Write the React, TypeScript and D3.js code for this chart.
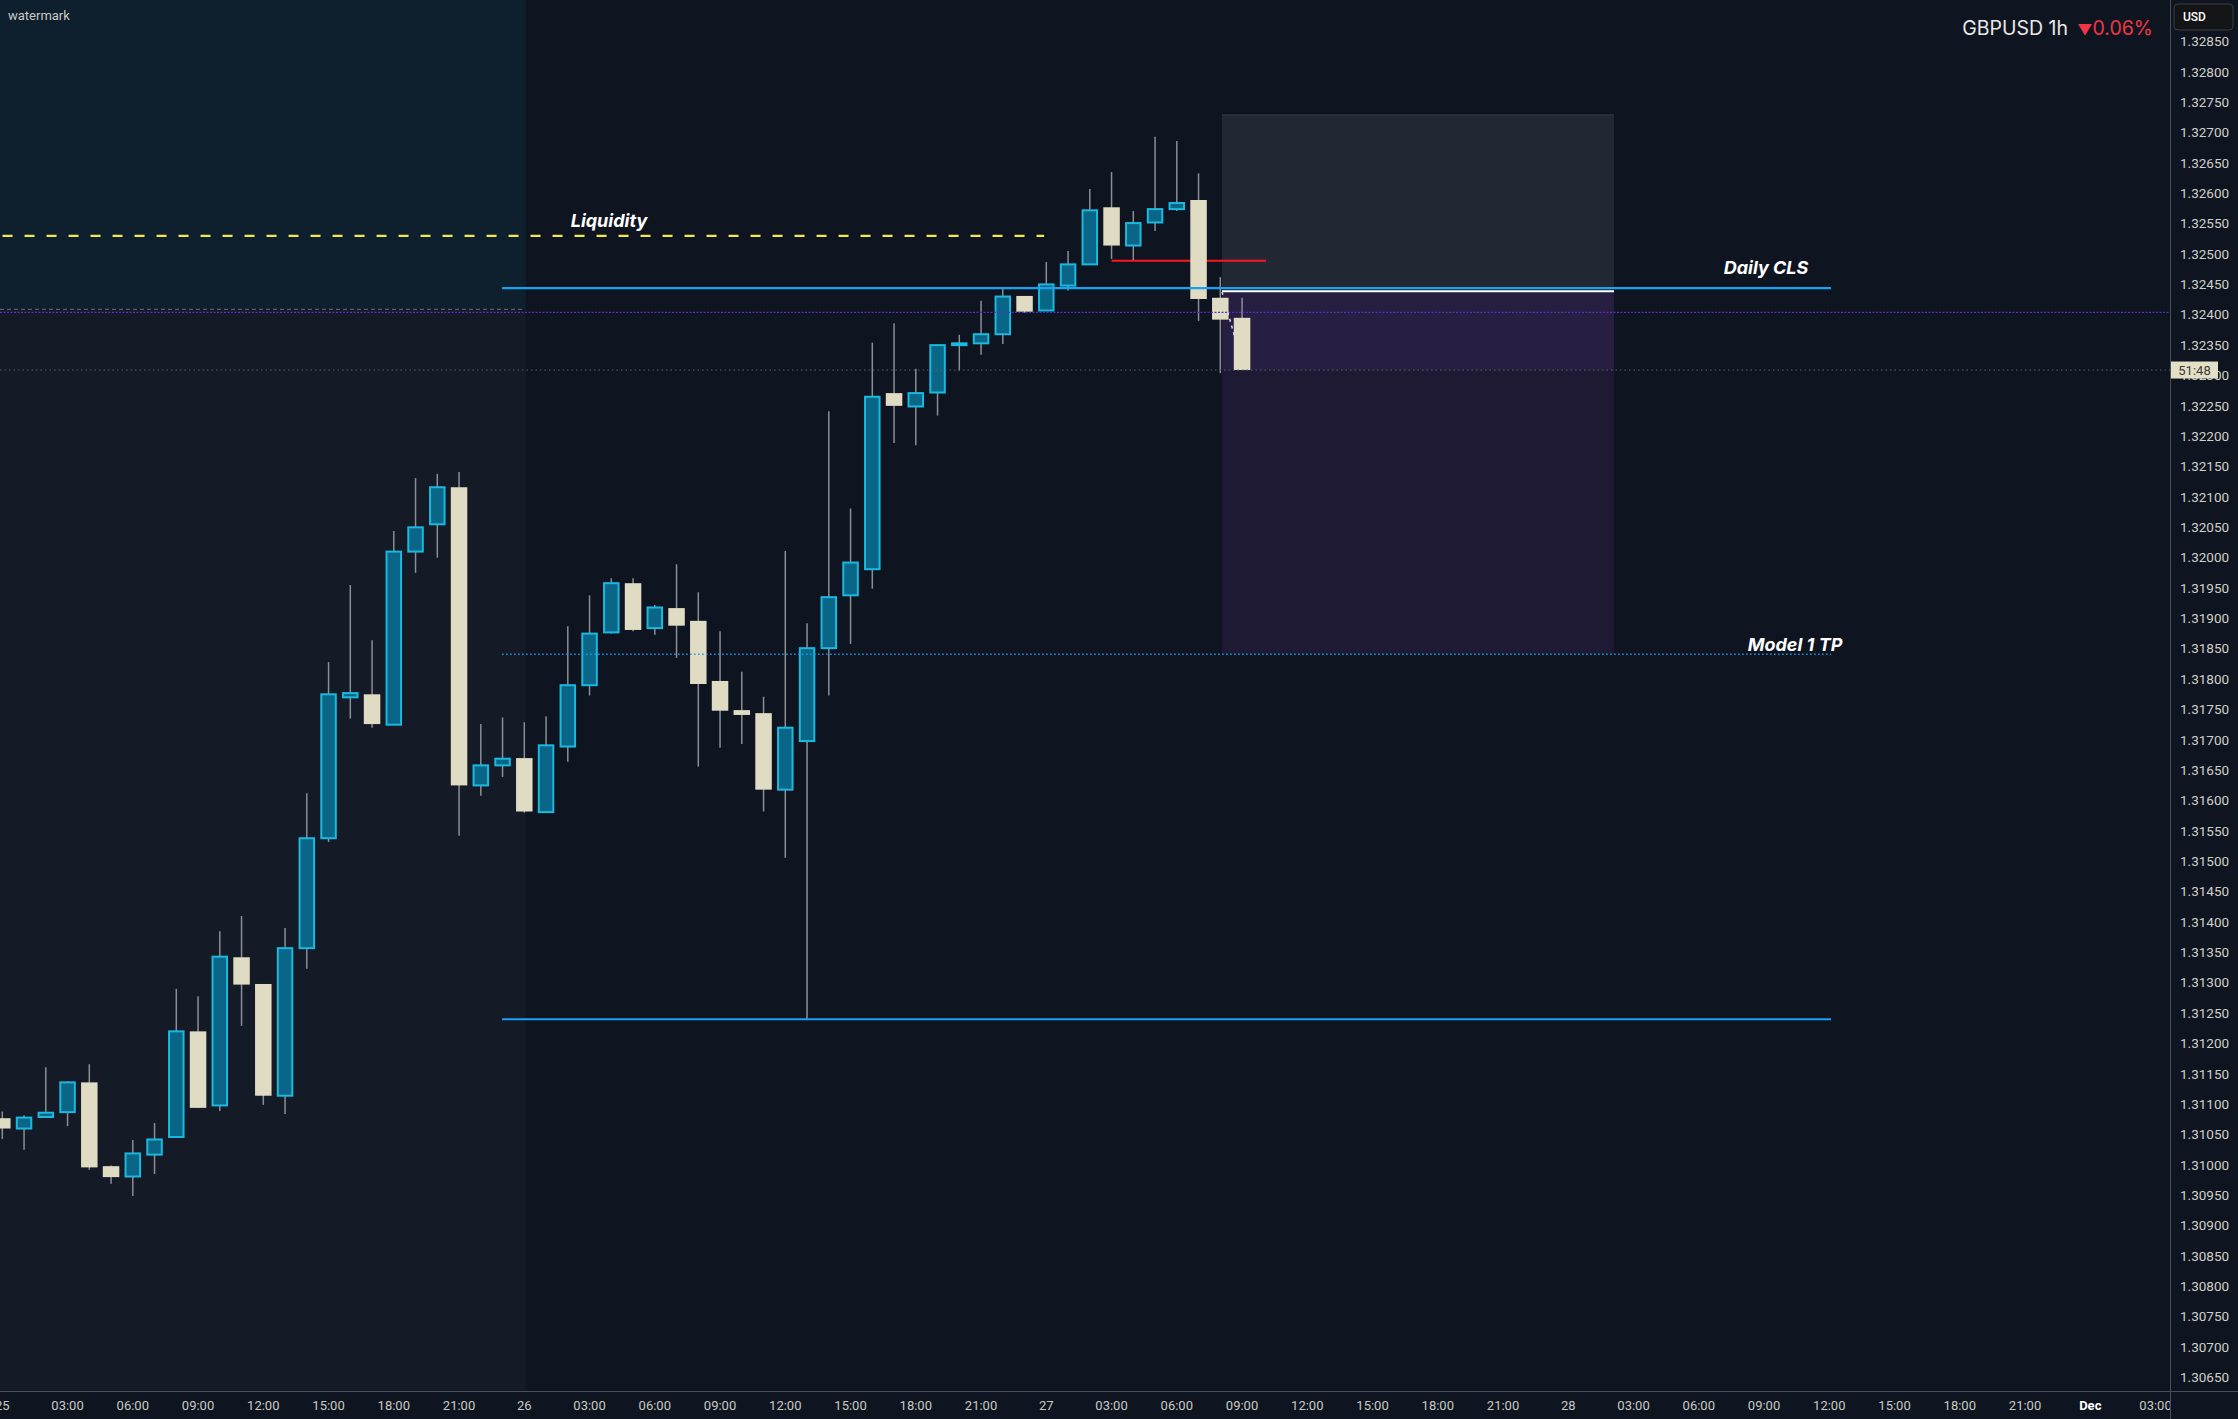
import React from 'react';
import * as d3 from 'd3';

// ---- Data (GBPUSD 1h, from 25 Nov 00:00) ----
const openP = [
  1.31077, 1.31060, 1.31079, 1.31087, 1.31136, 1.30998, 1.30981, 1.31017, 1.31046, 1.31220,
  1.31098, 1.31342, 1.31298, 1.31114, 1.31357, 1.31538, 1.31770, 1.31775, 1.31725, 1.32010,
  1.32055, 1.32116, 1.31625, 1.31658, 1.31670, 1.31581, 1.31689, 1.31790, 1.31877, 1.31958,
  1.31884, 1.31917, 1.31896, 1.31797, 1.31749, 1.31744, 1.31618, 1.31698, 1.31851, 1.31938,
  1.31981, 1.32271, 1.32249, 1.32272, 1.32350, 1.32353, 1.32368, 1.32431, 1.32407, 1.32448,
  1.32483, 1.32577, 1.32514, 1.32552, 1.32574, 1.32589, 1.32428, 1.32395,
];
const highP = [
  1.31088, 1.31082, 1.31161, 1.31138, 1.31166, 1.30999, 1.31041, 1.31069, 1.31290, 1.31278,
  1.31385, 1.31410, 1.31298, 1.31390, 1.31612, 1.31828, 1.31955, 1.31864, 1.32044, 1.32131,
  1.32138, 1.32141, 1.31726, 1.31737, 1.31729, 1.31739, 1.31887, 1.31938, 1.31966, 1.31966,
  1.31922, 1.31989, 1.31943, 1.31879, 1.31812, 1.31771, 1.32011, 1.31892, 1.32241, 1.32081,
  1.32354, 1.32386, 1.32311, 1.32350, 1.32367, 1.32423, 1.32443, 1.32431, 1.32487, 1.32505,
  1.32607, 1.32635, 1.32571, 1.32693, 1.32686, 1.32633, 1.32462, 1.32428,
];
const lowP = [
  1.31043, 1.31025, 1.31078, 1.31064, 1.30992, 1.30969, 1.30949, 1.30985, 1.31045, 1.31094,
  1.31089, 1.31229, 1.31099, 1.31084, 1.31323, 1.31532, 1.31735, 1.31720, 1.31725, 1.31975,
  1.32000, 1.31542, 1.31608, 1.31639, 1.31580, 1.31580, 1.31664, 1.31773, 1.31875, 1.31879,
  1.31873, 1.31835, 1.31656, 1.31687, 1.31693, 1.31582, 1.31506, 1.31240, 1.31773, 1.31858,
  1.31949, 1.32189, 1.32185, 1.32234, 1.32308, 1.32334, 1.32352, 1.32403, 1.32407, 1.32440,
  1.32483, 1.32492, 1.32490, 1.32538, 1.32571, 1.32390, 1.32304, 1.32309,
];
const closeP = [
  1.31060, 1.31078, 1.31086, 1.31136, 1.30996, 1.30980, 1.31019, 1.31042, 1.31220, 1.31094,
  1.31343, 1.31297, 1.31114, 1.31357, 1.31538, 1.31775, 1.31777, 1.31726, 1.32010, 1.32050,
  1.32116, 1.31625, 1.31658, 1.31669, 1.31582, 1.31691, 1.31790, 1.31875, 1.31958, 1.31881,
  1.31918, 1.31888, 1.31792, 1.31748, 1.31741, 1.31618, 1.31720, 1.31851, 1.31935, 1.31992,
  1.32265, 1.32250, 1.32271, 1.32350, 1.32353, 1.32368, 1.32430, 1.32405, 1.32450, 1.32483,
  1.32572, 1.32514, 1.32551, 1.32574, 1.32584, 1.32426, 1.32392, 1.32309,
];

// time axis labels, one every 3 hours starting 25 Nov 00:00 (weekend skipped)
const timeTickLabels = [
  '25', '03:00', '06:00', '09:00', '12:00', '15:00', '18:00', '21:00',
  '26', '03:00', '06:00', '09:00', '12:00', '15:00', '18:00', '21:00',
  '27', '03:00', '06:00', '09:00', '12:00', '15:00', '18:00', '21:00',
  '28', '03:00', '06:00', '09:00', '12:00', '15:00', '18:00', '21:00',
  'Dec', '03:00',
];
const priceTickMin = 1.3065;
const priceTickMax = 1.3285;
const priceTickStep = 0.0005;

// annotation levels
const liquidityLevel = 1.3253;
const dailyCLSLevel = 1.32444;
const entryLevel = 1.32441;
const modelTPLevel = 1.31841;
const sweepLowLevel = 1.3124;
const redLevel = 1.32489;
const stopLevel = 1.32729;
const purpleLevel = 1.32404;
const grayPrevLevel = 1.32409;
const lastPrice = 1.32309;

// annotation time extents (hour index)
const sessionEnd = 24.07;
const liquidityEnd = 47.9;
const clsStart = 22.98;
const clsEnd = 84.08;
const redStart = 51.0;
const redEnd = 58.1;
const posStart = 56.08;
const posEnd = 74.1;

const W = 2238;
const H = 1419;
const PR = 2170; // price axis x
const PB = 1391; // time axis y

export default function App() {
  const x = d3.scaleLinear().domain([0, 99]).range([2.3, 2.3 + 99 * 21.75]);
  const y = d3.scaleLinear().domain([priceTickMax, priceTickMin]).range([41.5, 1377.5]);
  const fmt = d3.format('.5f');
  const priceTicks = d3.range(0, Math.round((priceTickMax - priceTickMin) / priceTickStep) + 1)
    .map((i) => priceTickMin + i * priceTickStep);

  const candles = openP.map((o, i) => ({ i, o, h: highP[i], l: lowP[i], c: closeP[i] }));
  const axisFont = "Roboto, 'Liberation Sans', sans-serif";
  const labelFont = "Inter, 'Noto Sans', sans-serif";
  const bg = '#0f1520';

  return (
    <svg width={W} height={H} style={{ position: 'absolute', left: 0, top: 0, display: 'block' }}>
      <defs>
        <clipPath id="plot">
          <rect x={0} y={0} width={PR} height={PB} />
        </clipPath>
        <clipPath id="timeaxis">
          <rect x={0} y={PB} width={PR} height={H - PB} />
        </clipPath>
      </defs>
      <rect x={0} y={0} width={W} height={H} fill={bg} />
      <g clipPath="url(#plot)">
        {/* session shading */}
        <rect x={0} y={0} width={x(sessionEnd)} height={PB} fill="#141a26" />
        <rect x={0} y={0} width={x(sessionEnd)} height={y(grayPrevLevel)} fill="#0e1f2d" />
        <line x1={0} x2={x(23.9)} y1={y(grayPrevLevel)} y2={y(grayPrevLevel)} stroke="#6a6e77" strokeWidth={1} strokeDasharray="4 3" />

        {/* position tool */}
        <rect x={x(posStart)} y={y(stopLevel)} width={x(posEnd) - x(posStart)} height={y(entryLevel) - y(stopLevel)} fill="#222833" />
        <line x1={x(posStart)} x2={x(posEnd)} y1={y(stopLevel)} y2={y(stopLevel)} stroke="#2e343f" strokeWidth={1.5} />
        <rect x={x(posStart)} y={y(entryLevel)} width={x(posEnd) - x(posStart)} height={y(lastPrice) - y(entryLevel)} fill="#261f41" />
        <rect x={x(posStart)} y={y(lastPrice)} width={x(posEnd) - x(posStart)} height={y(modelTPLevel) - y(lastPrice)} fill="#1e1a33" />

        {/* red line */}
        <line x1={x(redStart)} x2={x(redEnd)} y1={y(redLevel)} y2={y(redLevel)} stroke="#ff1418" strokeWidth={2} />

        {/* candles */}
        {candles.map((d) => {
          const up = d.c >= d.o;
          const cx = x(d.i);
          const top = y(Math.max(d.o, d.c));
          const bot = y(Math.min(d.o, d.c));
          const hgt = Math.max(bot - top, 1);
          return (
            <g key={d.i}>
              <line x1={cx} x2={cx} y1={y(d.h)} y2={y(d.l)} stroke="#8a8e97" strokeWidth={1.5} />
              {up ? (
                <rect x={cx - 7.25} y={top} width={14.5} height={hgt} fill="#0a6686" stroke="#1bb8df" strokeWidth={2} />
              ) : (
                <rect x={cx - 8.25} y={top} width={16.5} height={hgt} fill="#dfdcc3" />
              )}
            </g>
          );
        })}

        {/* horizontal levels */}
        <line x1={0} x2={PR} y1={y(purpleLevel)} y2={y(purpleLevel)} stroke="#5a2ec4" strokeWidth={1.2} strokeDasharray="2 1.5" />
        <line x1={0} x2={PR} y1={y(lastPrice)} y2={y(lastPrice)} stroke="#5c626d" strokeWidth={1} strokeDasharray="1.5 3" />
        <line x1={x(-1)} x2={x(liquidityEnd)} y1={y(liquidityLevel)} y2={y(liquidityLevel)} stroke="#f4e651" strokeWidth={2.2} strokeDasharray="10 12" />
        <line x1={x(clsStart)} x2={x(clsEnd)} y1={y(dailyCLSLevel)} y2={y(dailyCLSLevel)} stroke="#16a4f2" strokeWidth={2.3} />
        <line x1={x(posStart)} x2={x(posEnd)} y1={y(entryLevel) + 1.5} y2={y(entryLevel) + 1.5} stroke="#ffffff" strokeWidth={2} />
        <line x1={x(clsStart)} x2={x(clsEnd)} y1={y(modelTPLevel)} y2={y(modelTPLevel)} stroke="#1a9ae6" strokeWidth={1.5} strokeDasharray="1.5 2.5" />
        <line x1={x(clsStart)} x2={x(clsEnd)} y1={y(sweepLowLevel)} y2={y(sweepLowLevel)} stroke="#16a4f2" strokeWidth={2} />
        <line x1={x(posStart)} x2={x(posStart) + 13} y1={y(entryLevel) + 2} y2={y(lastPrice) - 32} stroke="#d8d8e0" strokeWidth={1.5} strokeDasharray="3 4" />

        {/* labels */}
        <text x={609} y={227} fill="#ffffff" fontFamily={labelFont} fontSize={18} fontWeight={700} fontStyle="italic" textAnchor="middle">Liquidity</text>
        <text x={1766} y={274} fill="#ffffff" fontFamily={labelFont} fontSize={18} fontWeight={700} fontStyle="italic" textAnchor="middle">Daily CLS</text>
        <text x={1795} y={651} fill="#ffffff" fontFamily={labelFont} fontSize={18} fontWeight={700} fontStyle="italic" textAnchor="middle">Model 1 TP</text>

        <text x={8} y={20} fill="#c9c9c0" fontFamily={axisFont} fontSize={13}>watermark</text>
      </g>

      {/* time labels */}
      <g clipPath="url(#timeaxis)">
        {timeTickLabels.map((t, i) => (
          <text key={i} x={x(i * 3)} y={1410} fill={t === 'Dec' ? '#ffffff' : '#c9c9c0'} fontFamily={axisFont} fontSize={13} fontWeight={t === 'Dec' ? 700 : 400} textAnchor="middle">{t}</text>
        ))}
      </g>

      {/* title */}
      <text x={2068} y={35} fill="#e8e8e8" fontFamily={labelFont} fontSize={19.5} textAnchor="end">GBPUSD 1h</text>
      <text x={2153} y={35} fill="#f23645" fontFamily={labelFont} fontSize={19.5} textAnchor="end">
        <tspan fontSize={15}>▼</tspan>0.06%
      </text>

      {/* axes */}
      <line x1={PR + 0.5} x2={PR + 0.5} y1={0} y2={H} stroke="#4a4e57" strokeWidth={1} />
      <line x1={0} x2={W} y1={PB + 0.5} y2={PB + 0.5} stroke="#4a4e57" strokeWidth={1} />
      {priceTicks.map((p) => (
        <text key={p.toFixed(5)} x={2180} y={y(p)} dy="0.35em" fill="#cfd0c8" fontFamily={axisFont} fontSize={13.5}>{fmt(p)}</text>
      ))}
      <rect x={2174} y={4} width={59} height={26} rx={4} fill="#131415" stroke="#3b3d40" strokeWidth={1} />
      <text x={2183} y={17} dy="0.35em" fill="#ffffff" fontFamily={axisFont} fontSize={12} fontWeight={500}>USD</text>

      <rect x={2171} y={y(lastPrice) - 8.5} width={47} height={17} fill="#e2dfc4" />
      <text x={2194.5} y={y(lastPrice)} dy="0.35em" fill="#3a3a3a" fontFamily={axisFont} fontSize={13} textAnchor="middle">51:48</text>
    </svg>
  );
}
